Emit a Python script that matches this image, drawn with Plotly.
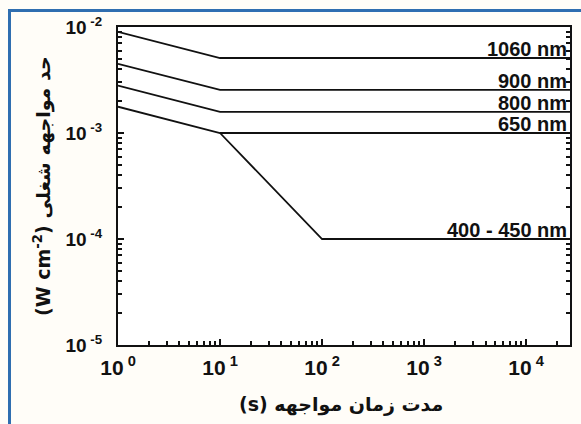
import math
import plotly.graph_objects as go

# Data
series_names = ["1060 nm", "900 nm", "800 nm", "650 nm", "400 - 450 nm"]
series_x = [
    [1, 10, 27000],
    [1, 10, 27000],
    [1, 10, 27000],
    [1, 10, 27000],
    [10, 100, 27000],
]
series_y = [
    [9.0e-3, 5.1e-3, 5.1e-3],
    [4.5e-3, 2.55e-3, 2.55e-3],
    [2.8e-3, 1.58e-3, 1.58e-3],
    [1.77e-3, 1.0e-3, 1.0e-3],
    [1.0e-3, 1.0e-4, 1.0e-4],
]
x_tickvals = [1, 10, 100, 1000, 10000]
x_ticktext = ["10<sup> 0</sup>", "10<sup> 1</sup>", "10<sup> 2</sup>", "10<sup> 3</sup>", "10<sup> 4</sup>"]
y_tickvals = [1e-5, 1e-4, 1e-3, 1e-2]
y_ticktext = ["10<sup> -5</sup>", "10<sup> -4</sup>", "10<sup> -3</sup>", "10<sup> -2</sup>"]
x_title = "(s) مدت زمان مواجهه"
y_title = "(W cm<sup>-2</sup>) حد مواجهه شغلی"

x_minor = [m * 10 ** d for d in range(0, 5) for m in range(2, 10)]
y_minor = [m * 10.0 ** d for d in range(-5, -2) for m in range(2, 10)]

W, H = 581, 424
L, R, T, B = 118, 11, 27, 79
pw, ph = W - L - R, H - T - B

fig = go.Figure()
for name, xs, ys in zip(series_names, series_x, series_y):
    fig.add_trace(go.Scatter(x=xs, y=ys, mode="lines", name=name,
                             line=dict(color="#111111", width=1.8), showlegend=False,
                             hoverinfo="skip"))
    fig.add_annotation(x=1, xref="paper", y=math.log10(ys[-1]), yref="y",
                       text="<b>%s</b>" % name, showarrow=False, xanchor="right", yanchor="bottom",
                       xshift=-1, yshift=-4,
                       font=dict(family="Liberation Sans, Arial", size=20, color="#111111"))

def px_to_paper_x(px):
    return (px - L) / pw

def px_to_paper_y(py):
    return (H - B - py) / ph

# outer blue frame
fig.add_shape(type="rect", xref="paper", yref="paper",
              x0=px_to_paper_x(9.5), x1=px_to_paper_x(600),
              y0=px_to_paper_y(440), y1=px_to_paper_y(10.5),
              line=dict(color="#2F6EB0", width=3), fillcolor="rgba(0,0,0,0)", layer="below")

# axis titles as annotations
fig.add_annotation(x=px_to_paper_x(341), xref="paper", y=px_to_paper_y(404), yref="paper",
                   text="<b>" + x_title + "</b>", showarrow=False, yanchor="middle",
                   font=dict(family="DejaVu Sans", size=19, color="#111111"))
fig.add_annotation(x=px_to_paper_x(42), xref="paper", y=px_to_paper_y(186), yref="paper",
                   text="<b>" + y_title + "</b>", showarrow=False, textangle=-90,
                   xanchor="center", yanchor="middle",
                   font=dict(family="DejaVu Sans", size=19, color="#111111"))

fig.update_layout(
    width=W, height=H,
    margin=dict(l=L, r=R, t=T, b=B, autoexpand=False),
    paper_bgcolor="#FFFDF8", plot_bgcolor="white",
    hovermode=False,
    xaxis=dict(type="log", range=[0, 4.43], tickvals=x_tickvals, ticktext=x_ticktext,
               ticks="inside", ticklen=6, tickwidth=1.5, tickcolor="#111111",
               showline=True, linecolor="#111111", linewidth=2, mirror=True,
               showgrid=False, zeroline=False, ticklabelstandoff=3, automargin=False,
               minor=dict(tickvals=x_minor, ticks="inside", ticklen=4, tickwidth=1.5,
                          tickcolor="#111111", showgrid=False),
               tickfont=dict(family="Liberation Sans, Arial", size=21, color="#111111", weight="bold")),
    yaxis=dict(type="log", range=[-5, -2], tickvals=y_tickvals, ticktext=y_ticktext,
               ticks="inside", ticklen=6, tickwidth=1.5, tickcolor="#111111",
               showline=True, linecolor="#111111", linewidth=2, mirror="allticks",
               showgrid=False, zeroline=False, ticklabelstandoff=10, automargin=False,
               minor=dict(tickvals=y_minor, ticks="inside", ticklen=4, tickwidth=1.5,
                          tickcolor="#111111", showgrid=False),
               tickfont=dict(family="Liberation Sans, Arial", size=19, color="#111111", weight="bold")),
)

fig.write_html("out.html", config={"displayModeBar": False},
               post_script="document.body.style.margin='0';document.body.style.overflow='hidden';")
